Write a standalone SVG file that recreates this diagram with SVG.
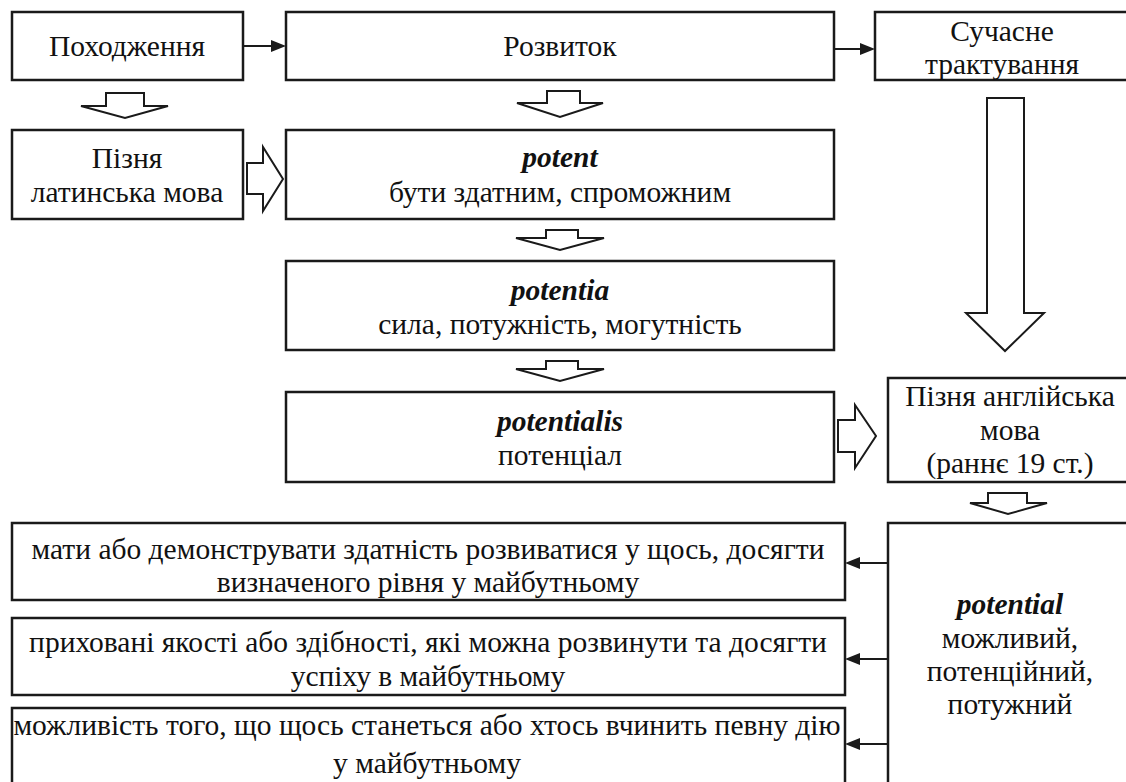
<svg xmlns="http://www.w3.org/2000/svg" width="1126" height="782" viewBox="0 0 1126 782">
<style>
.t{font-family:"Liberation Serif",serif;font-size:29.5px;fill:#111;text-anchor:middle}
.bi{font-weight:bold;font-style:italic}
.box{fill:#fff;stroke:#1a1a1a;stroke-width:2.5}
.barrow{fill:#fff;stroke:#1a1a1a;stroke-width:2;stroke-linejoin:miter}
.conn{stroke:#1a1a1a;stroke-width:2;fill:none}
.head{fill:#1a1a1a}
</style>
<rect width="1126" height="782" fill="#fff"/>
<g id="pokhodzhennia">
<rect class="box" x="12" y="12" width="231" height="68"/>
<text class="t" x="127" y="56">Походження</text>
</g>
<g id="rozvytok">
<rect class="box" x="286" y="12" width="548" height="68"/>
<text class="t" x="560" y="56">Розвиток</text>
</g>
<g id="suchasne">
<path class="box" d="M1126,12 H875 V80 H1126"/>
<text class="t" x="1002" y="41">Сучасне</text>
<text class="t" x="1002" y="74">трактування</text>
</g>
<g id="latyn">
<rect class="box" x="12" y="130" width="231" height="89"/>
<text class="t" x="127" y="168">Пізня</text>
<text class="t" x="127" y="202">латинська мова</text>
</g>
<g id="potent">
<rect class="box" x="286" y="130" width="548" height="89"/>
<text class="t bi" x="560" y="167">potent</text>
<text class="t" x="560" y="202">бути здатним, спроможним</text>
</g>
<g id="potentia">
<rect class="box" x="286" y="261" width="548" height="89"/>
<text class="t bi" x="560" y="300">potentia</text>
<text class="t" x="560" y="334">сила, потужність, могутність</text>
</g>
<g id="potentialis">
<rect class="box" x="286" y="392" width="548" height="90"/>
<text class="t bi" x="560" y="431">potentialis</text>
<text class="t" x="560" y="465">потенціал</text>
</g>
<g id="anglijska">
<path class="box" d="M1126,378 H888 V482 H1126"/>
<text class="t" x="1010" y="406">Пізня англійська</text>
<text class="t" x="1010" y="440">мова</text>
<text class="t" x="1010" y="473">(раннє 19 ст.)</text>
</g>
<g id="potential">
<path class="box" d="M1126,523 H888 V782"/>
<text class="t bi" x="1010" y="614">potential</text>
<text class="t" x="1010" y="648">можливий,</text>
<text class="t" x="1010" y="681">потенційний,</text>
<text class="t" x="1010" y="714">потужний</text>
</g>
<g id="meaning1">
<rect class="box" x="12" y="523" width="833" height="77"/>
<text class="t" x="428" y="559">мати або демонструвати здатність розвиватися у щось, досягти</text>
<text class="t" x="428" y="592">визначеного рівня у майбутньому</text>
</g>
<g id="meaning2">
<rect class="box" x="12" y="618" width="833" height="77"/>
<text class="t" x="428" y="652">приховані якості або здібності, які можна розвинути та досягти</text>
<text class="t" x="428" y="686">успіху в майбутньому</text>
</g>
<g id="meaning3">
<path class="box" d="M12,782 V708 H845 V782"/>
<text class="t" x="427" y="735">можливість того, що щось станеться або хтось вчинить певну дію</text>
<text class="t" x="427" y="773">у майбутньому</text>
</g>
<g id="connectors">
<line class="conn" x1="243" y1="46" x2="272" y2="46"/>
<polygon class="head" points="271,40 286,46 271,52"/>
<line class="conn" x1="834" y1="49" x2="861" y2="49"/>
<polygon class="head" points="860,43 875,49 860,55"/>
<line class="conn" x1="888" y1="563" x2="859" y2="563"/>
<polygon class="head" points="860,557 845,563 860,569"/>
<line class="conn" x1="888" y1="659" x2="859" y2="659"/>
<polygon class="head" points="860,653 845,659 860,665"/>
<line class="conn" x1="888" y1="744" x2="859" y2="744"/>
<polygon class="head" points="860,738 845,744 860,750"/>
<polygon class="barrow" points="106,93 144,93 144,106 168,106 125,118 81,106 106,106"/>
<polygon class="barrow" points="547,91 580,91 580,103 603,103 560,117 517,103 547,103"/>
<polygon class="barrow" points="546,230 578,230 578,238 604,238 560,250 516,238 546,238"/>
<polygon class="barrow" points="546,361 578,361 578,369 604,369 560,381 516,369 546,369"/>
<polygon class="barrow" points="988,493 1027,493 1027,503 1047,503 1008,514 970,503 988,503"/>
<polygon class="barrow" points="987,98 1024,98 1024,313 1044,313 1005,351 966,313 987,313"/>
<polygon class="barrow" points="247,163 263,163 263,147 283,179 263,211 263,194 247,194"/>
<polygon class="barrow" points="838,420 855,420 855,405 876,436 855,468 855,452 838,452"/>
</g>
</svg>
